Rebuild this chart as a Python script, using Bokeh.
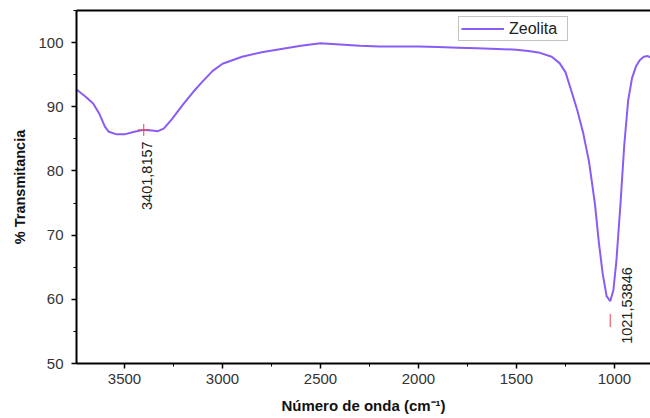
import math
from bokeh.plotting import figure
from bokeh.models import Range1d, SingleIntervalTicker, LinearAxis, FixedTicker, Legend, LegendItem
from bokeh.core.properties import value
from bokeh.embed import file_html
from bokeh.resources import INLINE

# FTIR spectrum of Zeolita (wavenumber cm^-1, % transmittance)
wavenumber = [3745, 3700, 3660, 3630, 3600, 3580, 3540, 3500, 3450, 3401.8, 3360, 3330, 3300,
              3260, 3200, 3150, 3100, 3050, 3000, 2900, 2800, 2700, 2600, 2500, 2400, 2300,
              2200, 2100, 2000, 1900, 1800, 1700, 1600, 1500, 1440, 1380, 1320, 1280, 1250,
              1220, 1190, 1160, 1130, 1100, 1080, 1060, 1040, 1021.5, 1005, 990, 970, 950,
              930, 910, 890, 870, 850, 830, 816]
transmittance = [92.7, 91.6, 90.5, 89.0, 86.9, 86.1, 85.7, 85.7, 86.1, 86.4, 86.3, 86.2, 86.6,
                 88.0, 90.4, 92.3, 94.0, 95.6, 96.7, 97.8, 98.5, 99.0, 99.5, 99.9, 99.7, 99.5,
                 99.4, 99.4, 99.4, 99.3, 99.2, 99.1, 99.0, 98.9, 98.7, 98.4, 97.8, 96.8, 95.4,
                 92.5, 89.5, 86.0, 81.5, 75.0, 69.0, 64.0, 60.5, 59.7, 61.5, 66.0, 74.5, 84.0,
                 91.0, 94.5, 96.3, 97.3, 97.8, 97.9, 97.7]

peak_x = [3401.8157, 1021.53846]
peak_marker_y = [86.4, 56.7]
peak_label_y = [84.6, 65.0]
peak_labels = ["3401,8157", "1021,53846"]
series_name = "Zeolita"

FONT = "Liberation Sans"

p = figure(width=650, height=418, output_backend="svg", toolbar_location=None,
           x_range=Range1d(3745, 816), y_range=Range1d(50, 105),
           min_border_left=76, min_border_right=0, min_border_top=10, min_border_bottom=55)
p.outline_line_color = None
p.xgrid.visible = False
p.ygrid.visible = False
p.background_fill_color = "white"
p.border_fill_color = "white"

line = p.line(wavenumber, transmittance, line_color="#8a5cf6", line_width=2)

# peak markers
p.scatter([peak_x[0]], [peak_marker_y[0]], marker="cross", size=12,
          line_color="#e8424a", line_width=1)
p.scatter([peak_x[1]], [peak_marker_y[1]], marker="dash", size=13, angle=math.pi / 2,
          line_color="#e8424a", line_width=1)

p.text([peak_x[0]], [peak_label_y[0]], text=[peak_labels[0]], angle=math.pi / 2,
       text_align="right", text_baseline="middle", x_offset=3,
       text_font=value(FONT), text_font_size="14.5px", text_color="#222222")
p.text([peak_x[1]], [peak_label_y[1]], text=[peak_labels[1]], angle=math.pi / 2,
       text_align="right", text_baseline="middle", x_offset=17,
       text_font=value(FONT), text_font_size="14.5px", text_color="#222222")

# axes
for ax in (p.xaxis[0], p.yaxis[0]):
    ax.axis_line_width = 2
    ax.axis_line_color = "black"
    ax.major_tick_line_color = "black"
    ax.minor_tick_line_color = "black"
    ax.major_tick_line_width = 1.5
    ax.major_tick_out = 5
    ax.major_tick_in = 0
    ax.minor_tick_out = 3
    ax.minor_tick_in = 0
    ax.major_label_text_font = FONT
    ax.major_label_text_font_size = "15px"
    ax.major_label_text_color = "#333333"
    ax.axis_label_text_font = FONT
    ax.axis_label_text_font_style = "bold"
    ax.axis_label_text_color = "#111111"

p.xaxis[0].ticker = SingleIntervalTicker(interval=500, num_minor_ticks=2)
p.yaxis[0].ticker = SingleIntervalTicker(interval=10, num_minor_ticks=2)
p.xaxis[0].axis_label = "Número de onda (cm⁻¹)"
p.yaxis[0].axis_label = "% Transmitancia"
p.xaxis[0].axis_label_text_font_size = "15px"
p.yaxis[0].axis_label_text_font_size = "14.5px"
p.xaxis[0].major_label_standoff = 5
p.yaxis[0].major_label_standoff = 8
p.xaxis[0].axis_label_standoff = 10
p.yaxis[0].axis_label_standoff = 7

top = LinearAxis(ticker=FixedTicker(ticks=[]), axis_line_width=2, axis_line_color="black",
                 major_tick_out=0, major_tick_in=0, minor_tick_out=0, minor_tick_in=0,
                 major_label_text_font_size="0px", major_label_standoff=0)
p.add_layout(top, "above")

legend = Legend(items=[LegendItem(label=series_name, renderers=[line])],
                location=(382, 322), orientation="vertical",
                label_text_font=FONT, label_text_font_size="16px", label_text_color="#222222",
                glyph_width=43, glyph_height=19, label_height=19, label_standoff=5,
                label_width=56, padding=2, spacing=0, margin=0,
                border_line_color="#888888", border_line_width=1,
                background_fill_alpha=1)
p.add_layout(legend, "center")

open("out.html", "w").write(file_html(p, INLINE))
